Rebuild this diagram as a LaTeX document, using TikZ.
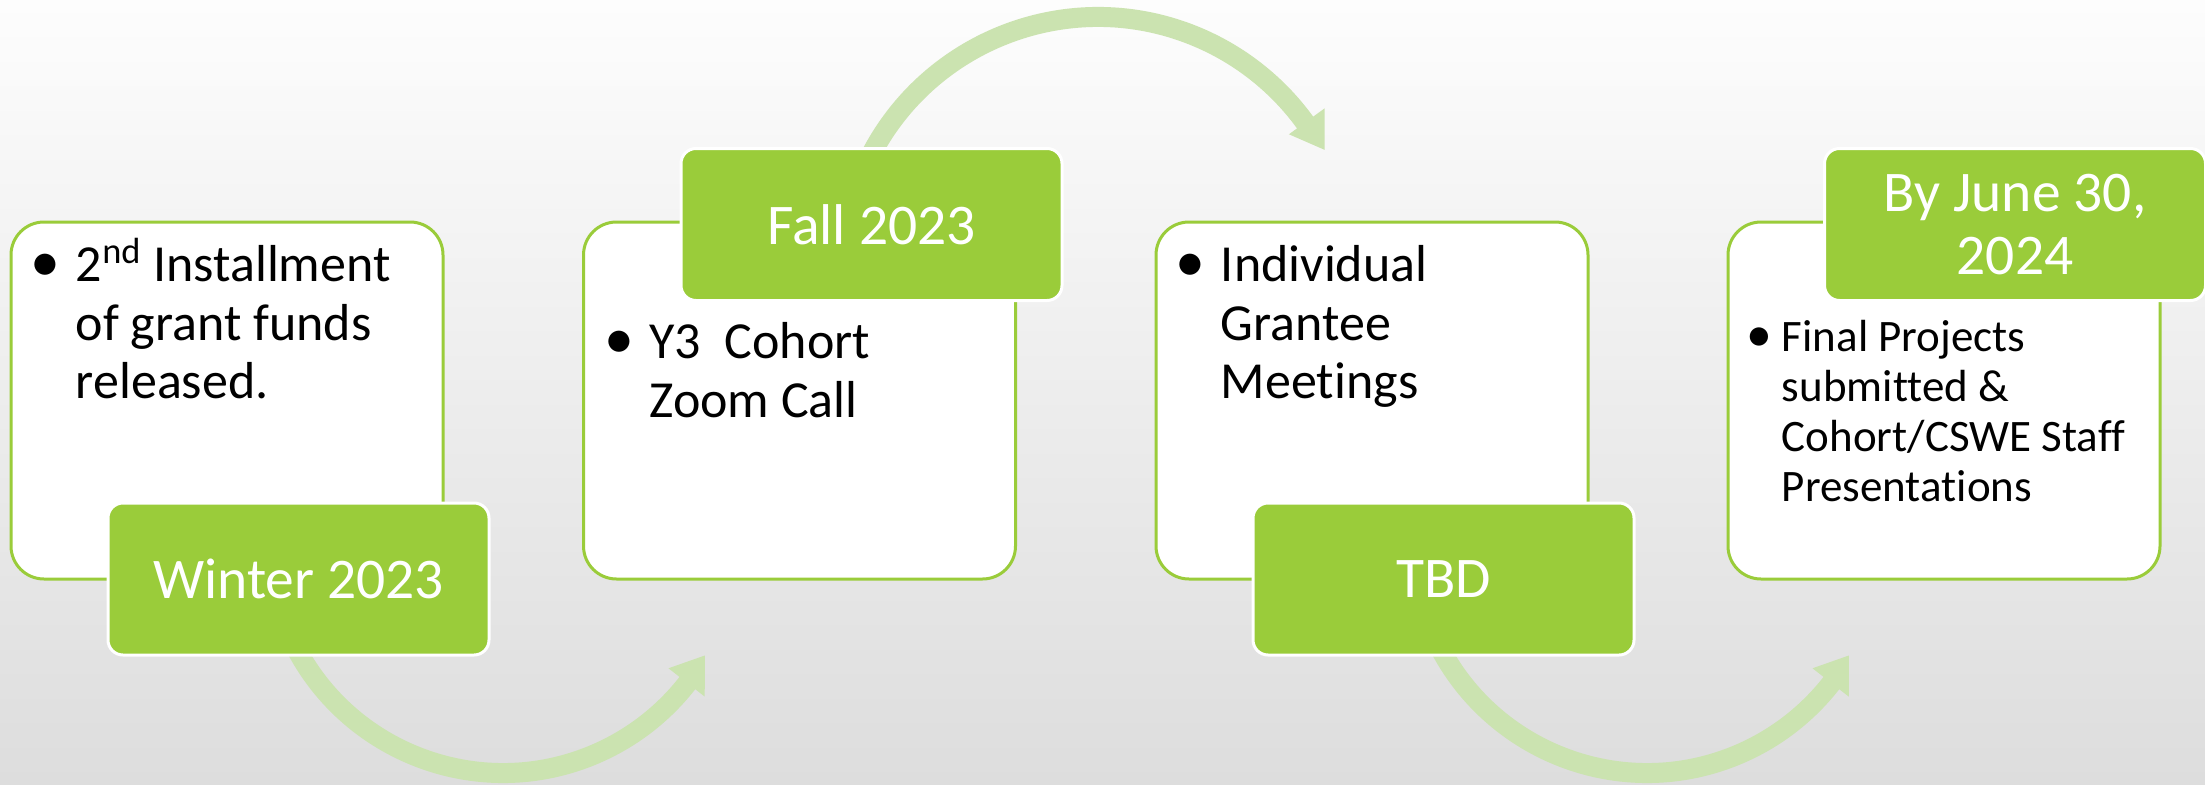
\documentclass[tikz,border=0pt]{standalone}
\usepackage{fontspec}
\setmainfont{Carlito}[Ligatures=NoCommon]
\usetikzlibrary{calc}
\definecolor{leaf}{RGB}{154,204,58}
\definecolor{arrowc}{RGB}{203,227,176}
\definecolor{bgtop}{RGB}{253,253,253}
\definecolor{bgmid}{RGB}{243,243,243}
\definecolor{bgbot}{RGB}{221,221,221}
\pgfdeclarelayer{bglayer}
\pgfdeclarelayer{backlayer}
\pgfsetlayers{bglayer,backlayer,main}
\tikzset{
  card/.style={draw=leaf, line width=1.5pt, fill=white, rounded corners=16.5pt,
    minimum width=216pt, minimum height=178.5pt, inner sep=0pt},
  datetag/.style={draw=white, line width=1.5pt, fill=leaf, rounded corners=7.5pt,
    minimum width=190.5pt, minimum height=76pt, text=white, inner sep=0pt,
    font=\fontsize{28.75}{31.5}\selectfont, align=center},
  bodytext/.style={anchor=base west, inner sep=0pt, text=black,
    font=\fontsize{26}{29.3}\selectfont},
  smalltext/.style={anchor=base west, inner sep=0pt, text=black,
    font=\fontsize{22.5}{25}\selectfont},
  arcline/.style={draw=arrowc, line width=10pt},
  headfill/.style={fill=arrowc}
}
\begin{document}
\begin{tikzpicture}[x=0.5pt,y=0.5pt]
\useasboundingbox (0,0) rectangle (2205,784);
\begin{pgfonlayer}{bglayer}
\shade[top color=bgtop, middle color=bgmid, bottom color=bgbot] (0,0) rectangle (2205,784);
\end{pgfonlayer}

% cards
\node[card] (b1) at (227,383.5) {};
\node[card] (b2) at (799.5,383.5) {};
\node[card] (b3) at (1372,383.5) {};
\node[card] (b4) at (1944,383.5) {};

% date tags
\node[datetag] (d1) at (298.5,205) {Winter 2023};
\node[datetag] (d2) at (871.5,559.5) {Fall 2023};
\node[datetag] (d3) at (1443.5,205) {TBD};
\node[datetag] (d4) at (2015,559.5) {By June 30,\\2024};

% texts
\node[bodytext] (t1) at ($(b1.north west)+(21,-61)$)
  {\begin{tabular}[t]{@{}l@{}l@{}}\makebox[22.5pt][l]{\scalebox{1.15}{•}}&2\textsuperscript{nd} Installment\\&of grant funds\\&released.\end{tabular}};
\node[bodytext] (t2) at ($(b2.north west)+(22,-138)$)
  {\begin{tabular}[t]{@{}l@{}l@{}}\makebox[22.5pt][l]{\scalebox{1.15}{•}}&Y3\ \ Cohort\\&Zoom Call\end{tabular}};
\node[bodytext] (t3) at ($(b3.north west)+(21,-61)$)
  {\begin{tabular}[t]{@{}l@{}l@{}}\makebox[22.5pt][l]{\scalebox{1.15}{•}}&Individual\\&Grantee\\&Meetings\end{tabular}};
\node[smalltext] (t4) at ($(b4.north west)+(20,-131)$)
  {\begin{tabular}[t]{@{}l@{}l@{}}\makebox[17.5pt][l]{\scalebox{1.15}{•}}&F\kern0pt inal Projects\\&submitted \&\\&Cohort/CSWE Staf\kern0pt f\\&Presentations\end{tabular}};

% circular arrows
\coordinate (c1) at (503,245);
\coordinate (c2) at (1098,511);
\coordinate (c3) at (1647,245);
\begin{pgfonlayer}{backlayer}
\draw[arcline] ($(c1)+(205:117pt)$) arc[start angle=205, end angle=322.5, radius=117pt];
\fill[headfill] ($(c1)+(322:105pt)$) -- ($(c1)+(330:116.5pt)$) -- ($(c1)+(322:128pt)$) -- cycle;
\draw[arcline] ($(c2)+(156:128pt)$) arc[start angle=156, end angle=35.5, radius=128pt];
\fill[headfill] ($(c2)+(36:118pt)$) -- ($(c2)+(28.5:129pt)$) -- ($(c2)+(36:140pt)$) -- cycle;
\draw[arcline] ($(c3)+(205:117pt)$) arc[start angle=205, end angle=322.5, radius=117pt];
\fill[headfill] ($(c3)+(322:105pt)$) -- ($(c3)+(330:116.5pt)$) -- ($(c3)+(322:128pt)$) -- cycle;
\end{pgfonlayer}
\end{tikzpicture}
\end{document}
